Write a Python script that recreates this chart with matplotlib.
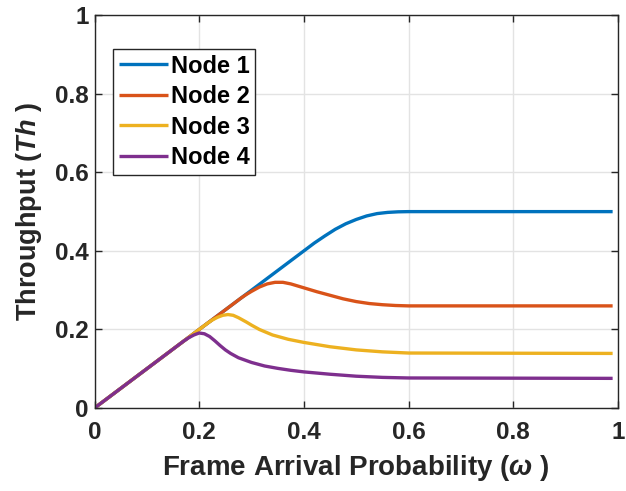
import matplotlib
matplotlib.use("Agg")
import matplotlib.pyplot as plt

plt.rcParams["font.family"] = ["Liberation Sans", "DejaVu Sans"]
plt.rcParams["font.weight"] = "bold"
plt.rcParams["mathtext.fontset"] = "custom"
plt.rcParams["mathtext.it"] = "Liberation Sans:italic:bold"
plt.rcParams["mathtext.rm"] = "Liberation Sans:bold"

# values
node1_x = [0, 0.42, 0.44, 0.46, 0.48, 0.5, 0.52, 0.54, 0.56, 0.58, 0.6, 0.99]
node1_y = [0, 0.42, 0.438, 0.455, 0.469, 0.480, 0.489, 0.495, 0.498, 0.4995, 0.5, 0.5]

node2_x = [0, 0.28, 0.29, 0.3, 0.315, 0.33, 0.345, 0.36, 0.375, 0.4, 0.425,
           0.45, 0.475, 0.5, 0.525, 0.55, 0.575, 0.6, 0.99]
node2_y = [0, 0.28, 0.289, 0.297, 0.308, 0.316, 0.320, 0.320, 0.316, 0.306, 0.296,
           0.287, 0.278, 0.271, 0.266, 0.263, 0.261, 0.260, 0.260]

node3_x = [0, 0.215, 0.225, 0.235, 0.245, 0.255, 0.265, 0.275, 0.29, 0.3, 0.315,
           0.34, 0.37, 0.4, 0.45, 0.5, 0.55, 0.6, 0.99]
node3_y = [0, 0.215, 0.224, 0.231, 0.236, 0.238, 0.236, 0.230, 0.219, 0.211, 0.200,
           0.186, 0.175, 0.167, 0.156, 0.148, 0.143, 0.140, 0.139]

node4_x = [0, 0.17, 0.18, 0.19, 0.2, 0.21, 0.22, 0.23, 0.24, 0.25, 0.26, 0.275,
           0.3, 0.325, 0.35, 0.375, 0.4, 0.45, 0.5, 0.55, 0.6, 0.99]
node4_y = [0, 0.17, 0.179, 0.186, 0.191, 0.189, 0.182, 0.171, 0.159, 0.148, 0.139, 0.128,
           0.116, 0.107, 0.101, 0.096, 0.092, 0.086, 0.081, 0.078, 0.0765, 0.0755]

labels = ["Node 1", "Node 2", "Node 3", "Node 4"]
colors = ["#0072BD", "#D95319", "#EDB120", "#7E2F8E"]
ticks = [0, 0.2, 0.4, 0.6, 0.8, 1]
tick_labels = ["0", "0.2", "0.4", "0.6", "0.8", "1"]

fig = plt.figure(figsize=(6.26, 4.91), dpi=100)
ax = fig.add_axes([0.151, 0.169, 0.836, 0.800])

series = [(node1_x, node1_y), (node2_x, node2_y), (node3_x, node3_y), (node4_x, node4_y)]
for (x, y), lab, c in zip(series, labels, colors):
    ax.plot(x, y, color=c, lw=2.4, label=lab, solid_capstyle="butt",
            solid_joinstyle="round")

ax.set_xlim(0, 1)
ax.set_ylim(0, 1)
ax.set_xticks(ticks)
ax.set_xticklabels(tick_labels)
ax.set_yticks(ticks)
ax.set_yticklabels(tick_labels)
ax.grid(True, color="#e3e3e3", lw=1.0)
ax.set_axisbelow(True)
ax.tick_params(direction="in", length=5, width=1, top=True, right=True,
               labelsize=17.5, colors="#262626")
ax.tick_params(axis="x", pad=9)
ax.tick_params(axis="y", pad=4)
for s in ax.spines.values():
    s.set_color("#262626")
    s.set_linewidth(1.0)

ax.set_xlabel(r"Frame Arrival Probability ($\omega$ )", fontsize=20,
              fontweight="bold", color="#262626", labelpad=7)
ax.set_ylabel(r"Throughput ($Th$ )", fontsize=19.5, fontweight="bold",
              color="#262626", labelpad=8)

leg = ax.legend(loc="upper left", bbox_to_anchor=(0.035, 0.915), fontsize=17,
                frameon=True, fancybox=False, framealpha=1, edgecolor="#262626",
                handlelength=2.1, handletextpad=0.1, borderpad=0.25,
                labelspacing=0.32, borderaxespad=0)
leg.get_frame().set_linewidth(1.0)
for t in leg.get_texts():
    t.set_fontweight("bold")

fig.savefig("out.png", dpi=100)
